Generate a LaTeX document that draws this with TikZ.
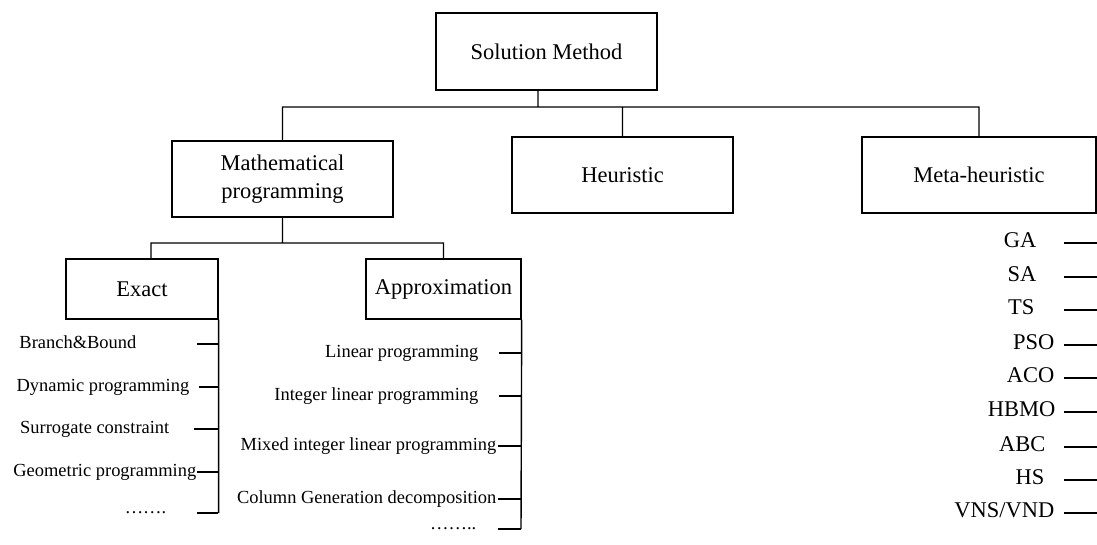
\documentclass[tikz,border=0pt]{standalone}
\usepackage{fontspec}
\setmainfont{Liberation Serif}
\usetikzlibrary{positioning}
\tikzset{box/.style={draw,rectangle,align=center,inner sep=0pt,font=\fontsize{12.8}{15.9}\selectfont},
	item/.style={inner sep=0pt,anchor=mid east,font=\fontsize{10.5}{12}\selectfont},
	metaitem/.style={inner sep=0pt,anchor=mid east,font=\fontsize{12.8}{15}\selectfont},
	dots/.style={inner sep=0pt,anchor=base east,font=\fontsize{10.5}{12}\selectfont}}

\begin{document}
\begin{tikzpicture}[x=0.02cm,y=-0.02cm,line width=0.8pt]
				\useasboundingbox (0,0) rectangle (1097,544);

				\node[box,minimum width=4.42cm,minimum height=1.54cm] (S) at (546.5,51.5) {Solution Method};
				\node[box,minimum width=4.42cm,minimum height=1.52cm] (MP) at (282.5,179) {Mathematical\\programming};
				\node[box,minimum width=4.42cm,minimum height=1.52cm] (H) at (622.5,175) {Heuristic};
				\node[box,minimum width=4.68cm,minimum height=1.52cm] (MH) at (979,175) {Meta-heuristic};
				\node[box,minimum width=3.04cm,minimum height=1.2cm] (E) at (142,289) {Exact};
				\node[box,minimum width=3.1cm,minimum height=1.2cm] (A) at (443.5,289) {Approximation};

				\coordinate (J1) at (538,107);
				\coordinate (J2) at (151,243);
				\coordinate (Ebar) at (218,513);
				\coordinate (Abar) at (521,529);
				\coordinate (Edge) at (1097,0);

				\path[draw]
				(S.south -| J1) -- (J1)
				(MP.north) |- (J1) -| (MH.north)
				(H.north) -- (H.north |- J1)
				(MP.south) -- (MP.south |- J2)
				(E.north -| J2) -- (J2) -| (A.north)
				(E.south east) -- (E.south east |- Ebar)
				(A.south east) -- (Abar);

				% exact methods
				\node[item] (BB) at (137,344) {Branch\&Bound};
				\node[item] (DP) at (190,387) {Dynamic programming};
				\node[item] (SC) at (170,429) {Surrogate constraint};
				\node[item] (GP) at (197,472) {Geometric programming};
				\node[dots] (Ed) at (167,513) {…….};

				\path[draw]
				(BB.mid east) ++(60,0) -- (BB.mid east -| Ebar)
				(DP.mid east) ++(9,0) -- (DP.mid east -| Ebar)
				(SC.mid east) ++(24,0) -- (SC.mid east -| Ebar)
				(GP.mid east) -- (GP.mid east -| Ebar)
				(Ed.base east) ++(30,0) -- (Ebar);

				% approximation methods
				\node[item] (LP) at (479,353) {Linear programming};
				\node[item] (ILP) at (479,396) {Integer linear programming};
				\node[item] (MILP) at (497,446) {Mixed integer linear programming};
				\node[item] (CG) at (497,499) {Column Generation decomposition};
				\node[dots] (Ad) at (477,529) {……..};

				\path[draw]
				(LP.mid east) ++(20,0) -- (LP.mid east -| Abar)
				(ILP.mid east) ++(20,0) -- (ILP.mid east -| Abar)
				(MILP.mid east) ++(1,0) -- (MILP.mid east -| Abar)
				(CG.mid east) ++(1,0) -- (CG.mid east -| Abar)
				(Ad.base east) ++(21,0) -- (Abar);

				% meta-heuristics
				\node[metaitem] (GA) at (1037,243) {GA};
				\node[metaitem] (SA) at (1037,277) {SA};
				\node[metaitem] (TS) at (1035,310) {TS};
				\node[metaitem] (PSO) at (1055,345) {PSO};
				\node[metaitem] (ACO) at (1055,378) {ACO};
				\node[metaitem] (HBMO) at (1056,412) {HBMO};
				\node[metaitem] (ABC) at (1046,447) {ABC};
				\node[metaitem] (HS) at (1045,480) {HS};
				\node[metaitem] (VNS) at (1055,513) {VNS/VND};

				\path[draw]
				(GA.mid east) ++(27,0) -- (GA.mid east -| Edge)
				(SA.mid east) ++(27,0) -- (SA.mid east -| Edge)
				(TS.mid east) ++(29,0) -- (TS.mid east -| Edge)
				(PSO.mid east) ++(9,0) -- (PSO.mid east -| Edge)
				(ACO.mid east) ++(9,0) -- (ACO.mid east -| Edge)
				(HBMO.mid east) ++(8,0) -- (HBMO.mid east -| Edge)
				(ABC.mid east) ++(18,0) -- (ABC.mid east -| Edge)
				(HS.mid east) ++(19,0) -- (HS.mid east -| Edge)
				(VNS.mid east) ++(9,0) -- (VNS.mid east -| Edge);
			\end{tikzpicture}
\end{document}
